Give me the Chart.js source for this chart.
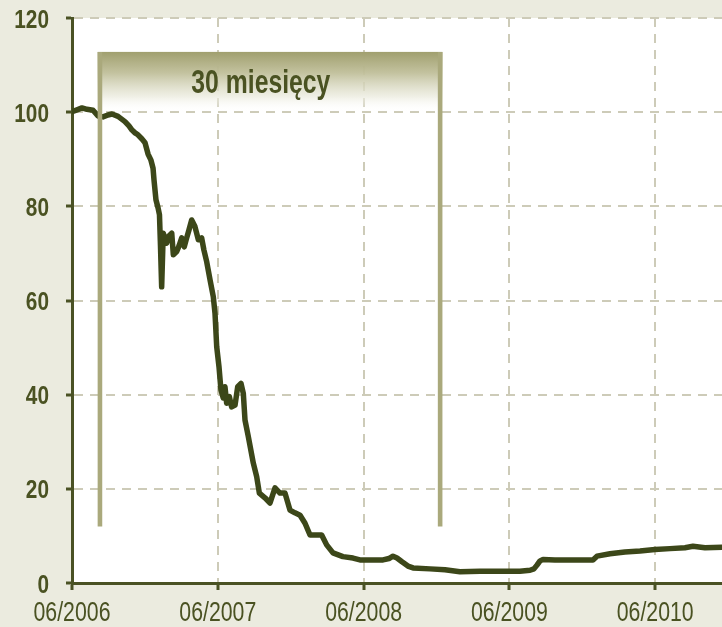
<!DOCTYPE html>
<html>
<head>
<meta charset="utf-8">
<script src="https://cdn.jsdelivr.net/npm/chart.js@4.4.1/dist/chart.umd.min.js"></script>
<style>
  html, body { margin: 0; padding: 0; background: #ebebdf; }
  #wrap { width: 722px; height: 627px; position: relative; }
</style>
</head>
<body>
<div id="wrap"><canvas id="c"></canvas></div>
<script>
// Index level, months counted from 06/2006
const months = [
  0.00, 0.41, 0.82, 1.23, 1.73, 2.14, 2.55, 2.96, 3.29, 3.79,
  4.36, 4.69, 4.94, 5.19, 5.43, 5.76, 6.01, 6.26, 6.50, 6.67,
  6.75, 6.91, 7.08, 7.20, 7.28, 7.38, 7.51, 7.79, 7.98, 8.21,
  8.34, 8.62, 8.81, 9.03, 9.24, 9.44, 9.63, 9.85, 10.12, 10.40,
  10.67, 10.86, 11.09, 11.36, 11.63, 11.77, 11.91, 12.10, 12.26, 12.45,
  12.59, 12.73, 12.95, 13.14, 13.42, 13.64, 13.91, 14.10, 14.24, 14.51,
  14.92, 15.20, 15.42, 15.88, 16.30, 16.71, 17.12, 17.53, 17.94, 18.35,
  18.77, 19.18, 19.59, 20.00, 20.55, 20.96, 21.48, 22.30, 23.13, 23.70,
  25.60, 26.09, 26.42, 26.75, 27.16, 27.65, 28.07, 29.47, 30.70, 31.93,
  33.58, 35.23, 36.87, 37.70, 38.02, 38.27, 38.52, 38.77, 39.75, 41.40,
  42.88, 43.21, 44.28, 45.51, 46.75, 47.98, 49.22, 50.45, 51.11, 52.10,
  53.50
];
const values = [
  100.1, 100.5, 100.9, 100.6, 100.4, 99.2, 99.0, 99.4, 99.6, 99.1,
  98.0, 97.1, 96.2, 95.6, 95.2, 94.3, 93.5, 91.1, 89.8, 88.1,
  85.6, 81.4, 79.7, 78.2, 71.8, 62.9, 74.3, 72.2, 73.7, 74.3,
  69.7, 70.4, 71.6, 73.3, 71.4, 73.3, 75.0, 77.1, 75.7, 72.9,
  73.3, 70.7, 68.2, 64.4, 60.8, 57.3, 50.2, 45.9, 41.0, 39.3,
  41.7, 38.2, 39.6, 37.4, 37.8, 41.7, 42.4, 40.3, 34.6, 31.1,
  25.5, 22.6, 19.1, 18.1, 17.0, 20.2, 19.1, 19.1, 15.5, 14.9,
  14.4, 12.7, 10.2, 10.2, 10.2, 8.1, 6.4, 5.6, 5.3, 4.9,
  4.9, 5.2, 5.7, 5.3, 4.5, 3.6, 3.2, 3.0, 2.8, 2.4,
  2.5, 2.5, 2.5, 2.7, 3.0, 3.8, 4.7, 5.0, 4.9, 4.9,
  4.9, 5.7, 6.2, 6.6, 6.8, 7.1, 7.3, 7.5, 7.8, 7.5,
  7.6
];
const tickMonths = [0, 12, 24, 36, 48];
const tickLabels = ['06/2006', '06/2007', '06/2008', '06/2009', '06/2010'];
const yTicks = [0, 20, 40, 60, 80, 100, 120];

// Highlighted window
const spanStart = 2.3;
const spanEnd = 30.3;
const spanTop = 112.8;
const spanBottom = 12;
const spanLabel = '30 miesięcy';

const FONT = "'Liberation Sans', Arial, sans-serif";
const INK = '#4a5222';
const AXIS = '#4a5224';
const GRID = '#cdcbb8';
const LINE = '#3c4719';
const KHAKI = '#aaa97c';

// Draw condensed text: horizontally squeezed around its anchor
function narrowText(ctx, text, x, y, squeeze, align) {
  ctx.save();
  ctx.translate(x, y);
  ctx.scale(squeeze, 1);
  ctx.textAlign = align;
  ctx.fillText(text, 0, 0);
  ctx.restore();
}

const paper = {
  id: 'paper',
  beforeDraw(chart) {
    const { ctx, chartArea: a } = chart;
    ctx.save();
    ctx.fillStyle = '#ebebdf';
    ctx.fillRect(0, 0, chart.width, chart.height);
    ctx.fillStyle = '#ffffff';
    ctx.fillRect(a.left, a.top, a.right - a.left, a.bottom - a.top);
    ctx.restore();
  }
};

const spanMarker = {
  id: 'spanMarker',
  afterDatasetsDraw(chart) {
    const { ctx } = chart;
    const xs = chart.scales.x, ys = chart.scales.y;
    const xl = xs.getPixelForValue(spanStart);
    const xr = xs.getPixelForValue(spanEnd);
    const yt = ys.getPixelForValue(spanTop);
    const yb = ys.getPixelForValue(spanBottom);
    const half = 2.3;
    const boxH = 60;
    ctx.save();
    const g = ctx.createLinearGradient(0, yt, 0, yt + boxH);
    g.addColorStop(0, 'rgba(160,159,110,1)');
    g.addColorStop(0.35, 'rgba(192,191,154,0.95)');
    g.addColorStop(0.75, 'rgba(234,234,220,0.7)');
    g.addColorStop(1, 'rgba(255,255,255,0)');
    ctx.fillStyle = g;
    ctx.fillRect(xl - half, yt, xr - xl + 2 * half, boxH);
    ctx.strokeStyle = KHAKI;
    ctx.lineWidth = 4.6;
    ctx.beginPath();
    ctx.moveTo(xl, yt);
    ctx.lineTo(xl, yb);
    ctx.moveTo(xr, yt);
    ctx.lineTo(xr, yb);
    ctx.stroke();
    ctx.fillStyle = INK;
    ctx.font = "bold 33px " + FONT;
    ctx.textBaseline = 'alphabetic';
    narrowText(ctx, spanLabel, xl + (xr - xl) * 0.473, yt + 41, 0.75, 'center');
    ctx.restore();
  }
};

const axisLabels = {
  id: 'axisLabels',
  afterDraw(chart) {
    const { ctx } = chart;
    const xs = chart.scales.x, ys = chart.scales.y;
    ctx.save();
    ctx.fillStyle = INK;
    ctx.textBaseline = 'alphabetic';
    ctx.font = "bold 26px " + FONT;
    yTicks.forEach(v => {
      narrowText(ctx, String(v), xs.left - 23, ys.getPixelForValue(v) + 9.5, 0.8, 'right');
    });
    ctx.font = "28px " + FONT;
    tickMonths.forEach((m, i) => {
      narrowText(ctx, tickLabels[i], xs.getPixelForValue(m), ys.bottom + 38, 0.76, 'center');
    });
    ctx.restore();
  }
};

new Chart(document.getElementById('c'), {
  type: 'line',
  data: {
    datasets: [{
      data: months.map((m, i) => ({ x: m, y: values[i] })),
      borderColor: LINE,
      borderWidth: 5.5,
      pointRadius: 0,
      tension: 0,
      borderJoinStyle: 'round',
      borderCapStyle: 'round',
      fill: false
    }]
  },
  options: {
    responsive: true,
    maintainAspectRatio: false,
    animation: false,
    layout: { padding: { top: 18, right: 0, left: 0, bottom: 0 } },
    plugins: { legend: { display: false }, tooltip: { enabled: false } },
    scales: {
      x: {
        type: 'linear',
        min: 0,
        max: 53.5,
        afterBuildTicks: s => { s.ticks = tickMonths.map(v => ({ value: v })); },
        afterFit: s => { s.height = 44; },
        ticks: { display: false },
        grid: { color: GRID, lineWidth: 2, tickColor: AXIS, tickWidth: 3, tickLength: 7 },
        border: { color: AXIS, width: 3, dash: [9, 7] }
      },
      y: {
        min: 0,
        max: 120,
        afterBuildTicks: s => { s.ticks = yTicks.map(v => ({ value: v })); },
        afterFit: s => { s.width = 72; },
        ticks: { display: false },
        grid: { color: GRID, lineWidth: 2, tickColor: AXIS, tickWidth: 3, tickLength: 6 },
        border: { color: AXIS, width: 3, dash: [9, 7] }
      }
    }
  },
  plugins: [paper, spanMarker, axisLabels]
});
</script>
</body>
</html>
